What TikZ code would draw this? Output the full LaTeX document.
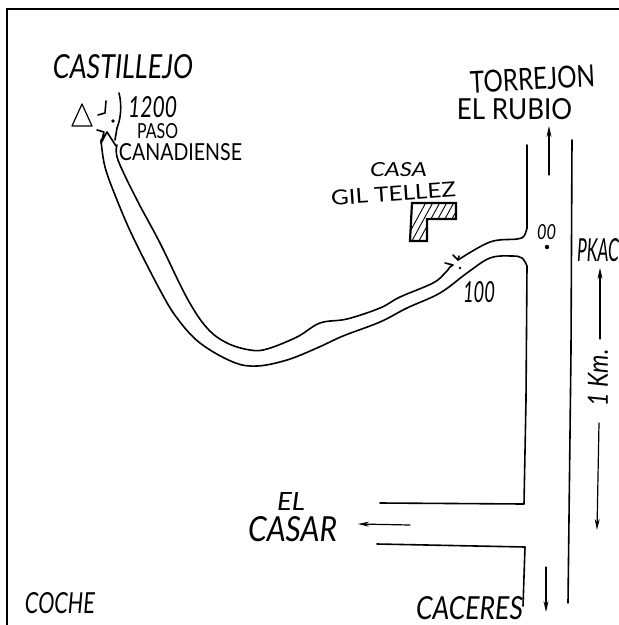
\documentclass[tikz,border=0pt]{standalone}
\usepackage{fontspec}
\usepackage{graphicx}
\setmainfont{Lato}
\usetikzlibrary{arrows.meta}
\newcommand{\fitlab}[7][0]{% rotation, name, x1, y1, x2, y2, text
  \node[lab,rotate=#1] (#2) at ({(#3+#5)/2},{(#4+#6)/2}) {\resizebox{\dimexpr#5pt-#3pt\relax}{\dimexpr#6pt-#4pt\relax}{#7}};}
\tikzset{
  lab/.style={inner sep=0pt,outer sep=0pt,anchor=center},
  pen/.style={line width=1.6pt,line cap=round,line join=round,black},
  thinpen/.style={line width=1.2pt,line cap=round,line join=round,black},
  arr/.style={thinpen,-{Stealth[length=11pt,width=5pt]}},
  road/.style={pen,smooth,tension=0.6}
}
\begin{document}
\begin{tikzpicture}[x=1pt,y=-1pt]
\useasboundingbox (0,0) rectangle (619,625);
% frame
\draw[line width=2.6pt,black] (7,625) -- (7,9) -- (619,9);
% labels
\fitlab{castillejo}{53}{55}{193}{79}{\itshape CASTILLEJO}
\fitlab{alt}{128}{97}{177}{118}{\itshape 1200}
\fitlab{paso}{137}{124}{178}{139}{PASO}
\fitlab{canadiense}{119}{144}{242}{161}{CANADIENSE}
\fitlab[3]{torrejon}{470}{68}{595}{90}{TORREJON}
\fitlab{rubio}{457}{99}{572}{120}{EL RUBIO}
\fitlab{casa}{370}{163}{427}{177}{\itshape CASA}
\fitlab[4]{gil}{331}{186}{456}{201}{GIL TELLEZ}
\fitlab{cero}{537}{225}{556}{240}{\itshape 00}
\fitlab{pk}{577}{239}{619}{262}{\itshape PKAC}
\fitlab{cien}{463}{282}{495}{303}{\itshape 100}
\fitlab{el}{277}{492}{305}{510}{\itshape EL}
\fitlab{casar}{248}{517}{337}{542}{\itshape CASAR}
\fitlab{caceres}{416}{597}{523}{620}{\itshape CACERES}
\fitlab{coche}{25}{593}{95}{614}{\itshape COCHE}
\node[lab,rotate=90] (km) at (598,378) {\resizebox{57pt}{20pt}{\itshape 1 Km.}};
% peak
\draw[thinpen] (72,126) -- (82,104) -- (92,126) -- cycle;
\draw[pen] (106,101) -- (105,113) -- (98,115);
\fill (113,121) circle (1.8pt);
% pass line and zigzag
\draw[pen] (119,93) .. controls (122,105) and (121,118) .. (117,128) -- (115,140);
\draw[pen] (97,130) -- (104,132) -- (101,143) (101,143) -- (107,132) -- (116,146);
% mountain road
\draw[road] plot coordinates {(101,140) (105,167) (117,200) (133,237) (160,290) (177,318) (200,343) (233,362) (257,366) (287,360) (317,348) (343,336) (380,322) (407,308) (440,293) (467,273) (490,258) (512,256) (522,258) (527,266)};
\draw[road] plot coordinates {(117,145) (118,160) (137,200) (160,243) (187,298) (207,328) (227,343) (250,350) (267,349) (297,337) (320,323) (347,319) (380,308) (400,297) (433,283) (445,273) (450,267)};
\draw[pen] (450,267) -- (453,265) -- (445,263);
\draw[road] plot coordinates {(458,260) (490,242) (517,239) (524,236) (527,228)};
\draw[pen] (453,255) -- (458,260) -- (459,256);
\fill (460,268) circle (1.4pt);
% main road
\draw[pen] (527,145) -- (527,228);
\draw[pen] (527,266) -- (526,400) -- (524,504) -- (380,503);
\draw[pen] (377,544) -- (525,547) -- (523,606);
\draw[pen] (572,140) -- (571,350) -- (568,603);
% building
\begin{scope}
\clip (412,203) -- (456,203) -- (456,219) -- (427,219) -- (427,241) -- (410,241) -- cycle;
\foreach \s in {0,7,...,70}{
  \draw[line width=0.9pt,black] (400+\s,250) -- (430+\s,195);
}
\end{scope}
\draw[line width=2.2pt,black,line join=miter] (412,203) -- (456,203) -- (456,219) -- (427,219) -- (427,241) -- (410,241) -- cycle;
\fill (547,247) circle (2.2pt);
% arrows
\draw[arr] (549,175) -- (549,126);
\draw[arr] (410,525) -- (358,524);
\draw[arr] (546,567) -- (546,612);
\draw[arr] (600,339) -- (600,268);
\draw[arr] (599,423) -- (597,530);
\end{tikzpicture}
\end{document}
